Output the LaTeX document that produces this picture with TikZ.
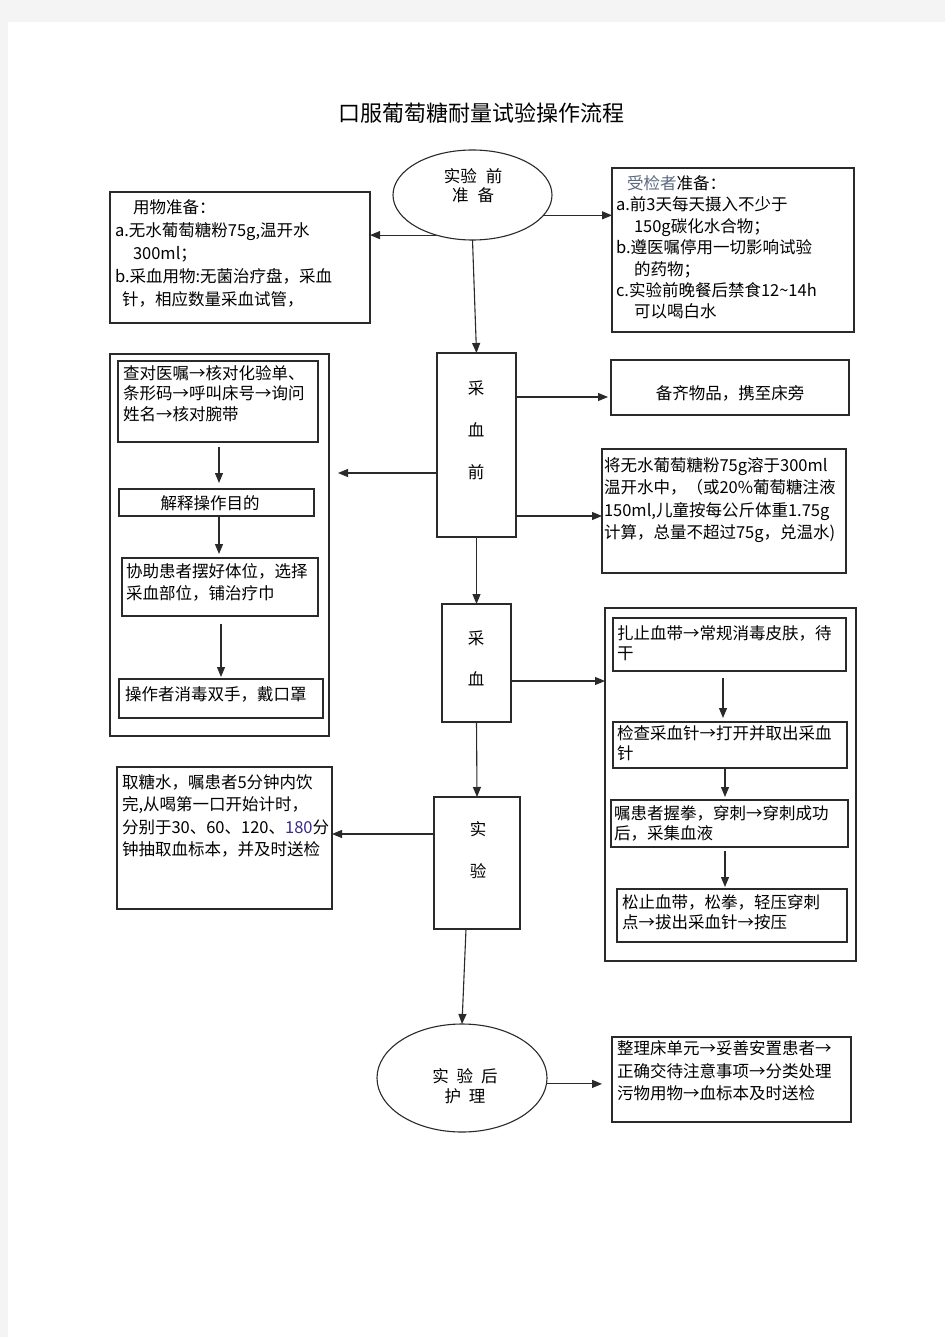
\documentclass[tikz,border=0pt]{standalone}
\usepackage{fontspec}
\setmainfont{Noto Sans CJK SC}
\usetikzlibrary{arrows.meta,shapes.geometric}
\definecolor{pagegray}{HTML}{F4F4F4}
\definecolor{lnc}{HTML}{2A2A2A}
\definecolor{subj}{HTML}{5C6B80}
\definecolor{numc}{HTML}{3A2A8A}
\newcommand\mkbox[5]{\node[box,anchor=north west,minimum width={#4-#2},minimum height={#5-#3}] (#1) at (#2,#3) {};}
\begin{document}
\begin{tikzpicture}[x=1pt,y=-1pt,
 box/.style={draw=lnc,line width=1.1pt,inner sep=0pt,outer sep=0pt},
 oval/.style={ellipse,draw=lnc,line width=1.1pt,inner sep=0pt,outer sep=0pt},
 txt/.style={inner sep=0pt,outer sep=0pt,align=left,anchor=north west},
 ctxt/.style={inner sep=0pt,outer sep=0pt,align=center,anchor=center},
 ls/.style={font=\fontsize{16.5}{#1}\selectfont},
 arr/.style={draw=lnc,line width=1.1pt,-{Triangle[length=10pt,width=8pt]}},
 thk/.style={draw=lnc,line width=2.4pt},
]
\useasboundingbox (0,0) rectangle (945,1337);
\fill[pagegray] (0,0) rectangle (945,1337);
\fill[white] (8,22) rectangle (945,1337);

% title
\node[font=\fontsize{22}{22}\selectfont,inner sep=0pt] (title) at (481,113) {口服葡萄糖耐量试验操作流程};

% ellipses
\node[oval,minimum width=159,minimum height=90] (e1) at (472.5,195) {};
\node[ctxt,ls=19] (e1t) at (473,185.5) {实验\hspace{9pt}前\\准\hspace{9pt}备};
\node[oval,minimum width=170,minimum height=108] (e2) at (462,1078) {};
\node[ctxt,ls=20] (e2t) at (465,1086) {实\hspace{8pt}验\hspace{8pt}后\\护\hspace{8pt}理};

% boxes
\mkbox{lb1}{110}{192}{370}{323}
\mkbox{rb1}{612}{168}{854}{332}
\mkbox{cxq}{437}{353}{516}{537}
\mkbox{rb2}{611}{360}{849}{415}
\mkbox{rb3}{602}{449}{846}{573}
\mkbox{lbig}{110}{354}{329}{736}
\mkbox{l1}{118}{361}{318}{442}
\mkbox{l2}{119}{489}{314}{516}
\mkbox{l3}{122}{558}{318}{616}
\mkbox{l4}{119}{679}{323}{718}
\mkbox{cx}{442}{604}{511}{722}
\mkbox{rbig}{605}{608}{856}{961}
\mkbox{r1}{613}{618}{846}{671}
\mkbox{r2}{613}{722}{847}{768}
\mkbox{r3}{611}{800}{848}{847}
\mkbox{r4}{617}{889}{847}{942}
\mkbox{sy}{434}{797}{520}{929}
\mkbox{lb5}{117}{767}{332}{909}
\mkbox{rb6}{612}{1037}{851}{1122}

% heavier edges
\draw[thk] (rb3.north east) -- (rb3.south east);
\draw[thk] (rbig.north west) -- (rbig.north east) -- (rbig.south east);
\draw[thk] (r4.north west) -- (r4.south west);
\draw[thk] (r4.north east) -- (r4.south east);
\draw[thk] (l3.north west) -- (l3.south west);
\draw[thk] (l4.north west) -- (l4.south west);

% texts
\node[txt,ls=23] (lb1t) at (115,199.5) {\hspace*{18pt}用物准备：\\a.无水葡萄糖粉75g,温开水\\\hspace*{18pt}300ml；\\b.采血用物:无菌治疗盘，采血\\\hspace*{7pt}针，相应数量采血试管，};
\node[txt,ls=21.4] (rb1t) at (616,175.5) {\hspace*{11pt}{\color{subj}受检者}准备：\\a.前3天每天摄入不少于\\\hspace*{18pt}150g碳化水合物；\\b.遵医嘱停用一切影响试验\\\hspace*{18pt}的药物；\\c.实验前晚餐后禁食12\textasciitilde14h\\\hspace*{18pt}可以喝白水};
\node[ctxt,ls=42] (cxqt) at (476,430) {采\\血\\前};
\node[ctxt,ls=20] (rb2t) at (730,393) {备齐物品，携至床旁};
\node[txt,ls=22.3] (rb3t) at (604,457.5) {将无水葡萄糖粉75g溶于300ml\\温开水中，（或20\%葡萄糖注液\\150ml,儿童按每公斤体重1.75g\\计算，总量不超过75g，兑温水)};
\node[txt,ls=20.5] (l1t) at (123,365.5) {查对医嘱→核对化验单、\\条形码→呼叫床号→询问\\姓名→核对腕带};
\node[ctxt,ls=20] (l2t) at (210,503) {解释操作目的};
\node[txt,ls=22] (l3t) at (126,563.5) {协助患者摆好体位，选择\\采血部位，铺治疗巾};
\node[txt,ls=20,anchor=west] (l4t) at (125,694) {操作者消毒双手，戴口罩};
\node[ctxt,ls=41] (cxt) at (476,658.5) {采\\血};
\node[txt,ls=20] (r1t) at (617,625.5) {扎止血带→常规消毒皮肤，待\\干};
\node[txt,ls=20] (r2t) at (617,725.5) {检查采血针→打开并取出采血\\针};
\node[txt,ls=20] (r3t) at (614,805.5) {嘱患者握拳，穿刺→穿刺成功\\后，采集血液};
\node[txt,ls=20] (r4t) at (622,894.5) {松止血带，松拳，轻压穿刺\\点→拔出采血针→按压};
\node[ctxt,ls=42] (syt) at (478,850) {实\\验};
\node[txt,ls=22.3] (lb5t) at (122,774.5) {取糖水，嘱患者5分钟内饮\\完,从喝第一口开始计时，\\分别于30、60、120、{\color{numc}180}分\\钟抽取血标本，并及时送检};
\node[txt,ls=22.7] (rb6t) at (617,1040.5) {整理床单元→妥善安置患者→\\正确交待注意事项→分类处理\\污物用物→血标本及时送检};

% main connectors
\draw[arr] (e1.228) -- (e1.228 -| lb1.east);
\draw[arr] (e1.344) -- (e1.344 -| rb1.west);
\draw[arr] (e1.south) -- (cxq.north);
\coordinate (a1) at ([yshift=48pt]cxq.east);
\draw[arr,shorten >=3pt] (a1) -- (a1 -| rb2.west);
\coordinate (a2) at ([yshift=-71pt]cxq.east);
\draw[arr] (a2) -- (a2 -| rb3.west);
\coordinate (a3) at ([yshift=-28pt]cxq.west);
\draw[arr,shorten >=9pt] (a3) -- (a3 -| lbig.east);
\draw[arr] (cxq.south) -- (cx.north);
\coordinate (a4) at ([yshift=-18pt]cx.east);
\draw[arr] (a4) -- (a4 -| rbig.west);
\draw[arr] (cx.south) -- (sy.north);
\coordinate (a5) at ([yshift=29pt]sy.west);
\draw[arr] (a5) -- (a5 -| lb5.east);
\coordinate (a6) at ([xshift=-11pt]sy.south);
\draw[arr] (a6) -- (e2.north);
\draw[arr,shorten >=10pt] (e2.356) -- (e2.356 -| rb6.west);

% inner connectors, left column
\coordinate (b1) at ([xshift=1pt]l1.south);
\draw[arr,shorten <=5pt,shorten >=6pt] (b1) -- (b1 |- l2.north);
\coordinate (b2) at ([xshift=2.5pt]l2.south);
\draw[arr,shorten <=1pt,shorten >=4pt] (b2) -- (b2 |- l3.north);
\coordinate (b3) at ([xshift=1pt]l3.south);
\draw[arr,shorten <=8pt,shorten >=2pt] (b3) -- (b3 |- l4.north);

% inner connectors, right column
\coordinate (c1) at ([xshift=-6.5pt]r1.south);
\draw[arr,shorten <=7pt,shorten >=4pt] (c1) -- (c1 |- r2.north);
\coordinate (c2) at ([xshift=-5pt]r2.south);
\draw[arr,shorten <=1pt,shorten >=3pt] (c2) -- (c2 |- r3.north);
\coordinate (c3) at ([xshift=-4.5pt]r3.south);
\draw[arr,shorten <=4pt,shorten >=2pt] (c3) -- (c3 |- r4.north);
\end{tikzpicture}
\end{document}
